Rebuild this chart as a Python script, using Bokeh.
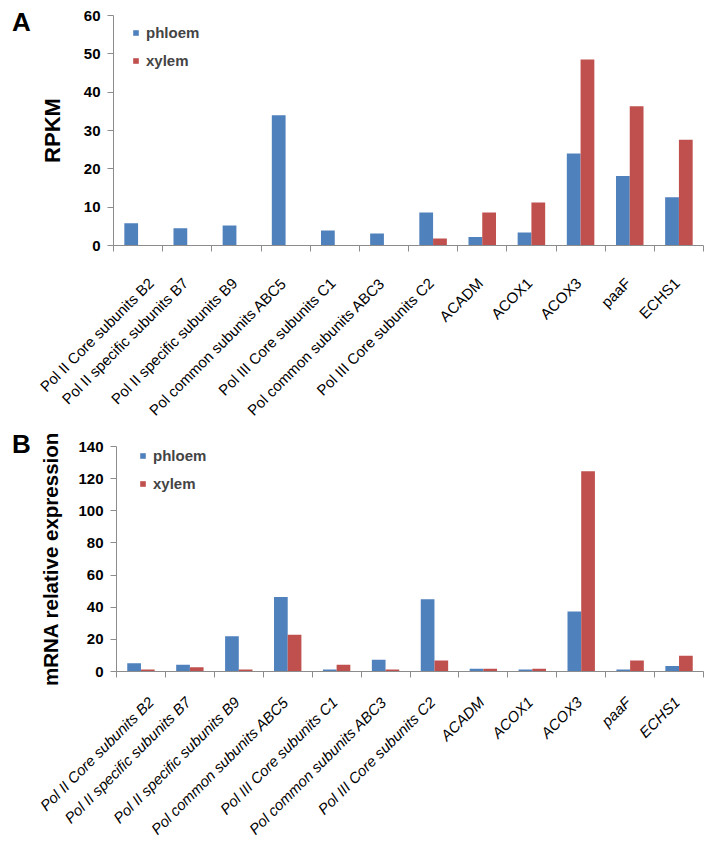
import math
from bokeh.plotting import figure
from bokeh.models import (ColumnDataSource, FixedTicker, Range1d, Legend, LegendItem, Div)
from bokeh.transform import dodge
from bokeh.layouts import column, row
from bokeh.embed import file_html
from bokeh.resources import INLINE

categories = ["Pol II Core subunits B2", "Pol II specific subunits B7", "Pol II specific subunits B9",
              "Pol common subunits ABC5", "Pol III Core subunits C1", "Pol common subunits ABC3",
              "Pol III Core subunits C2", "ACADM", "ACOX1", "ACOX3", "paaF", "ECHS1"]

rpkm_phloem = [5.8, 4.5, 5.2, 34.0, 3.9, 3.1, 8.6, 2.2, 3.4, 24.0, 18.1, 12.6]
rpkm_xylem = [0, 0, 0, 0, 0, 0, 1.8, 8.6, 11.2, 48.5, 36.3, 27.6]

mrna_phloem = [5.2, 4.2, 22.0, 46.3, 1.2, 7.3, 45.0, 1.7, 1.2, 37.3, 1.2, 3.5]
mrna_xylem = [1.2, 2.7, 1.2, 22.8, 4.2, 1.2, 6.8, 1.7, 1.7, 124.6, 6.8, 9.8]

BLUE = "#4F81BD"
RED = "#C0504D"
AXIS = "#8C8C8C"
FONT = "Liberation Sans"
LEFT_W = 36


def make(ph, xy, ymax, ystep, ylabel, label_style, label_standoff, height, b_top, b_bottom,
         b_left, b_right, ylabel_size, ylabel_standoff, legend_loc):
    n = len(categories)
    centers = [i + 0.5 for i in range(n)]
    src = ColumnDataSource(dict(x=centers, ph=ph, xy=xy))
    p = figure(width=708 - LEFT_W, height=height, output_backend="svg", toolbar_location=None,
               x_range=Range1d(0, n), y_range=Range1d(0, ymax),
               min_border_left=b_left, min_border_top=b_top, min_border_right=b_right,
               min_border_bottom=b_bottom)
    p.outline_line_color = None
    p.grid.visible = False
    r1 = p.vbar(x=dodge("x", -0.14, range=p.x_range), top="ph", width=0.28, source=src,
                fill_color=BLUE, line_color=None)
    r2 = p.vbar(x=dodge("x", 0.14, range=p.x_range), top="xy", width=0.28, source=src,
                fill_color=RED, line_color=None)

    label_pos = [c - 0.04 for c in centers]
    xa = p.xaxis[0]
    xa.ticker = FixedTicker(ticks=label_pos, minor_ticks=list(range(n + 1)))
    xa.major_label_overrides = {c: lab for c, lab in zip(label_pos, categories)}
    xa.major_tick_out = 0
    xa.major_tick_in = 0
    xa.minor_tick_out = 6
    xa.minor_tick_in = 0
    xa.minor_tick_line_color = AXIS
    xa.axis_line_color = AXIS
    xa.major_label_orientation = math.pi / 4
    xa.major_label_text_font = FONT
    xa.major_label_text_font_size = "15px"
    xa.major_label_text_font_style = label_style
    xa.major_label_text_color = "black"
    xa.major_label_standoff = label_standoff

    ya = p.yaxis[0]
    ya.ticker = FixedTicker(ticks=list(range(0, ymax + 1, ystep)))
    ya.minor_tick_line_color = None
    ya.major_tick_out = 6
    ya.major_tick_in = 0
    ya.major_tick_line_color = AXIS
    ya.axis_line_color = AXIS
    ya.major_label_text_font = FONT
    ya.major_label_text_font_size = "15px"
    ya.major_label_text_font_style = "bold"
    ya.major_label_text_color = "black"
    ya.major_label_standoff = 7
    ya.axis_label = ylabel
    ya.axis_label_text_font = FONT
    ya.axis_label_text_font_size = ylabel_size
    ya.axis_label_text_font_style = "bold"
    ya.axis_label_text_color = "black"
    ya.axis_label_standoff = ylabel_standoff

    legend = Legend(items=[LegendItem(label="phloem", renderers=[r1]),
                           LegendItem(label="xylem", renderers=[r2])],
                    location=legend_loc, border_line_color=None, background_fill_alpha=0,
                    glyph_width=7, glyph_height=7, label_text_font=FONT,
                    label_text_font_size="15px", label_text_font_style="bold",
                    label_height=20, spacing=8, margin=0, padding=0, label_standoff=7)
    p.add_layout(legend)
    return p


def letter(txt, top):
    return Div(text=txt, width=LEFT_W - 12, height=34, margin=(top, 0, 0, 12),
               styles={"font-family": FONT, "font-size": "26px", "font-weight": "bold",
                       "color": "black", "line-height": "30px"})


p1 = make(rpkm_phloem, rpkm_xylem, 60, 10, "RPKM", "normal", 29, 427, 15, 182, 110 - LEFT_W, 5,
          "22px", 16, (19, 175))
p2 = make(mrna_phloem, mrna_xylem, 140, 20, "mRNA relative expression", "italic", 22,
          420, 19, 176, 107 - LEFT_W, 5, "20.5px", 13, (23, 178))

layout = column(row(letter("A", 7), p1), row(letter("B", 2), p2), spacing=0)
open("out.html", "w").write(file_html(layout, INLINE))
